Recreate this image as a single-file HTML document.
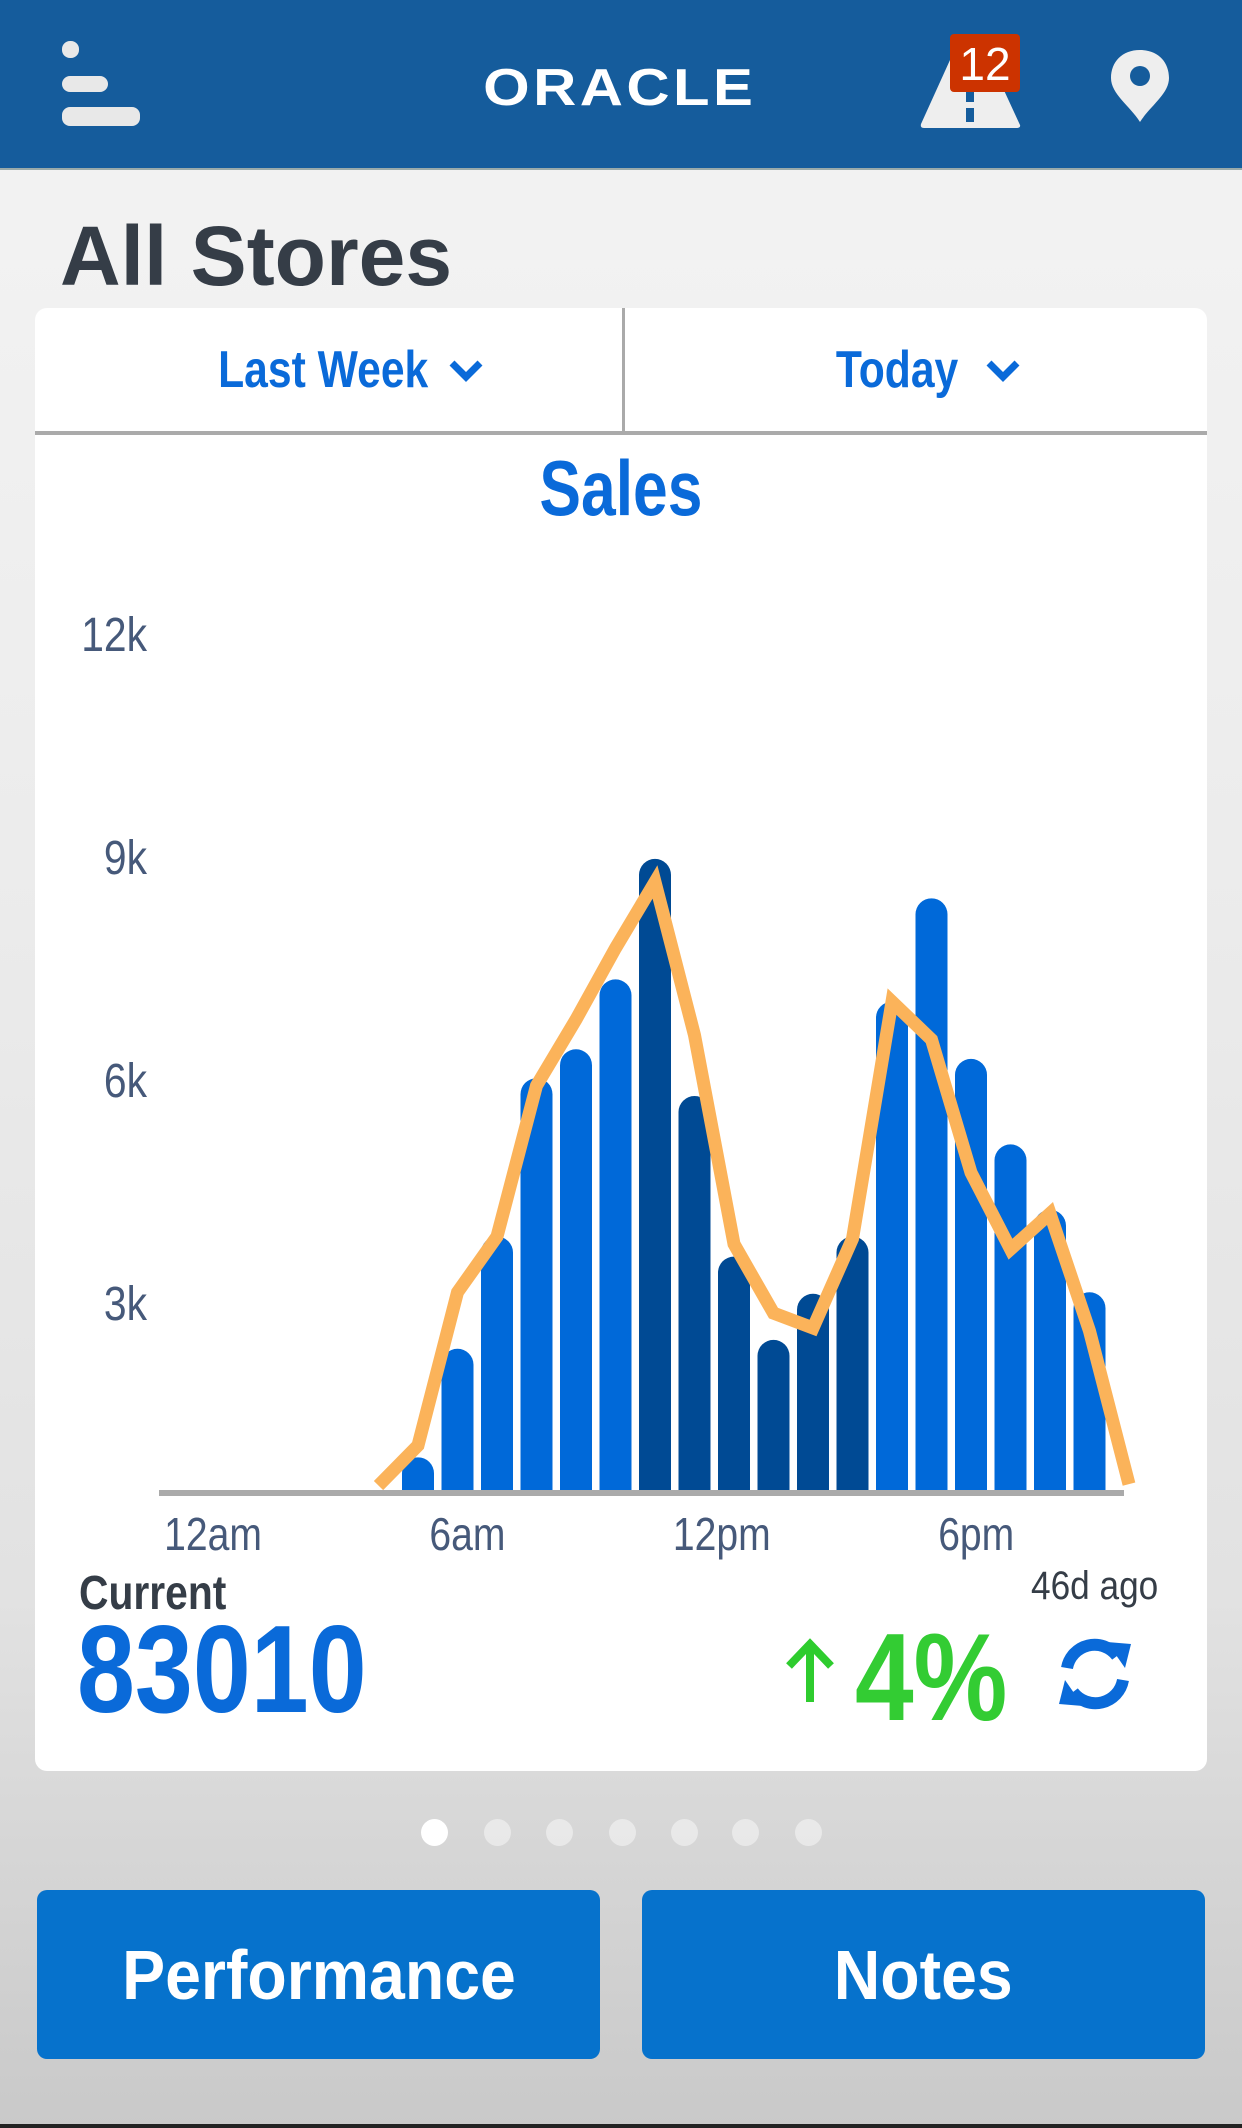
<!DOCTYPE html>
<html><head><meta charset="utf-8"><style>
*{margin:0;padding:0;box-sizing:border-box}
body{width:1242px;height:2128px;overflow:hidden;position:relative;font-family:"Liberation Sans",sans-serif;background:linear-gradient(180deg,#f4f4f4 0%,#ececec 40%,#e2e2e2 75%,#c9c9c9 100%)}
.abs{position:absolute}
.cx{display:inline-block;transform:scaleX(0.82)}
#header{left:0;top:0;width:1242px;height:170px;background:#155c9c;border-bottom:2px solid #9aa}
.bar{position:absolute;background:#e8e8e8;border-radius:8px;height:16px;left:62px}
#card{left:35px;top:308px;width:1172px;height:1463px;background:#fff;border-radius:12px}
.dd{position:absolute;top:0;height:124px;color:#0a6ad9;font-weight:bold;font-size:52px;display:flex;align-items:center;justify-content:center}
.btn{position:absolute;top:1890px;height:169px;width:563px;background:#0672cc;border-radius:10px;color:#fff;font-weight:bold;font-size:70px;display:flex;align-items:center;justify-content:center}
.dot{position:absolute;top:1819px;width:27px;height:27px;border-radius:50%;background:rgba(255,255,255,.45)}
</style></head><body>
<div id="header" class="abs">
  <div class="abs" style="left:0;top:30px;width:160px;height:100px">
    <div class="bar" style="top:11px;width:17px;height:17px"></div>
    <div class="bar" style="top:46px;width:46px"></div>
    <div class="bar" style="top:77px;width:78px;height:19px"></div>
  </div>
  <div class="abs" style="left:440px;top:58px;width:360px;text-align:center;color:#fff;font-weight:bold;font-size:52px;letter-spacing:3px"><span style="display:inline-block;transform:scaleX(1.15)">ORACLE</span></div>
  <svg class="abs" style="left:920px;top:30px" width="110" height="100">
    <path d="M30 30 L70 30 L100 95 Q101 98 96 98 L4 98 Q0 98 1 94 Z" fill="#eee"/>
    <rect x="46" y="60" width="8" height="12" fill="#155c9c"/><rect x="46" y="78" width="8" height="14" fill="#155c9c"/>
    <rect x="30" y="4" width="70" height="58" rx="4" fill="#cc3300"/>
    <text x="65" y="50" text-anchor="middle" fill="#fff" font-size="46" font-family="Liberation Sans,sans-serif">12</text>
  </svg>
  <svg class="abs" style="left:1108px;top:48px" width="64" height="76">
    <path d="M32 2 C14 2 3 14 3 30 C3 46 22 58 32 74 C42 58 61 46 61 30 C61 14 50 2 32 2 Z" fill="#eee"/>
    <circle cx="32" cy="28" r="10" fill="#155c9c"/>
  </svg>
</div>
<div class="abs" style="left:60px;top:208px;font-size:84px;font-weight:bold;color:#353d47">All Stores</div>
<div id="card" class="abs">
  <div class="dd" style="left:0;width:588px"><span class="cx" style="transform-origin:right">Last Week</span><svg width="40" height="30" style="margin-left:18px"><path d="M6 8 L20 22 L34 8" stroke="#0a6ad9" stroke-width="7" fill="none"/></svg></div>
  <div class="abs" style="left:587px;top:0;width:3px;height:124px;background:#aaa"></div>
  <div class="dd" style="left:590px;width:582px"><span class="cx" style="transform-origin:right">Today</span><svg width="40" height="30" style="margin-left:24px"><path d="M6 8 L20 22 L34 8" stroke="#0a6ad9" stroke-width="7" fill="none"/></svg></div>
  <div class="abs" style="left:0;top:123px;width:1172px;height:4px;background:#aaa"></div>
  <div class="abs" style="left:0;width:1172px;top:135px;text-align:center;color:#0a6ad9;font-weight:bold;font-size:78px"><span class="cx" style="transform:scaleX(0.8)">Sales</span></div>
  <div class="abs" style="left:44px;top:1258px;font-size:48px;font-weight:bold;color:#353d47;transform:scaleX(0.85);transform-origin:left">Current</div>
  <div class="abs" style="left:42px;top:1300px;font-size:124px;font-weight:bold;color:#0a6ad9;line-height:1;transform:scaleX(0.84);transform-origin:left">83010</div>
  <div class="abs" style="left:996px;top:1256px;font-size:40px;color:#353d47;transform:scaleX(0.88);transform-origin:left">46d ago</div>
  <svg class="abs" style="left:748px;top:1330px" width="54" height="66"><path d="M27 64 L27 8 M6 28 L27 6 L48 28" stroke="#2ecc2e" stroke-width="8" fill="none"/></svg>
  <div class="abs" style="left:820px;top:1308px;font-size:124px;font-weight:bold;color:#33cc33;line-height:1;transform:scaleX(0.85);transform-origin:left">4%</div>
  <svg class="abs" style="left:1020px;top:1328px" width="80" height="76">
    <path d="M12 32 A28 28 0 0 1 62 20" stroke="#0a6ad9" stroke-width="12" fill="none"/><path d="M52 6 L76 8 L70 32 Z" fill="#0a6ad9"/>
    <path d="M68 44 A28 28 0 0 1 18 56" stroke="#0a6ad9" stroke-width="12" fill="none"/><path d="M28 70 L4 68 L10 44 Z" fill="#0a6ad9"/>
  </svg>
</div>
<svg id="chart" class="abs" style="left:0;top:0" width="1242" height="1600"></svg>
<div class="dot" style="left:421px;background:#fff"></div>
<div class="dot" style="left:484px"></div>
<div class="dot" style="left:546px"></div>
<div class="dot" style="left:609px"></div>
<div class="dot" style="left:671px"></div>
<div class="dot" style="left:732px"></div>
<div class="dot" style="left:795px"></div>
<div class="btn" style="left:37px"><span class="cx" style="transform:scaleX(0.92)">Performance</span></div>
<div class="btn" style="left:642px"><span class="cx" style="transform:scaleX(0.92)">Notes</span></div>
<div class="abs" style="left:0;top:2124px;width:1242px;height:4px;background:#222"></div>
<script>
const yTicks=[3000,6000,9000,12000];
const yTickLabels=["3k","6k","9k","12k"];
const xTickLabels=["12am","6am","12pm","6pm"];
const xTickHours=[0,6,12,18];
const barValues=[480,1940,3450,5580,5970,6910,8530,5340,3180,2060,2680,3450,6610,8000,5840,4690,3810,2700];
const barDark=[0,0,0,0,0,0,1,1,1,1,1,1,0,0,0,0,0,0];
const lineValues=[100,640,2700,3450,5480,6370,7330,8220,6160,3350,2420,2220,3420,6610,6100,4310,3280,3760,2180,120];
const NS="http://www.w3.org/2000/svg";
const svg=document.getElementById('chart');
const y0=1493, pxPer=223/3000;
const yScale=v=>y0-v*pxPer;
const slot=i=>418+i*39.5;
const hourX=h=>213+h*42.4;
function mk(t,a){const e=document.createElementNS(NS,t);for(const k in a)e.setAttribute(k,a[k]);svg.appendChild(e);return e;}
yTicks.forEach((v,i)=>{
  const t=mk('text',{transform:`translate(147,${yScale(v)+50}) scale(0.85,1)`,'text-anchor':'end','font-size':48,fill:'#46597a','font-family':'Liberation Sans,sans-serif'});
  t.textContent=yTickLabels[i];
  
  
});
xTickLabels.forEach((l,i)=>{
  const t=mk('text',{transform:`translate(${hourX(xTickHours[i])},1550) scale(0.85,1)`,'text-anchor':'middle','font-size':46,fill:'#46597a','font-family':'Liberation Sans,sans-serif'});
  t.textContent=l;
  
  
});
barValues.forEach((v,i)=>{
  const x=slot(i)-16,top=yScale(v);
  const r=mk('path',{d:`M${x} ${y0-3} L${x} ${top+16} A16 16 0 0 1 ${x+32} ${top+16} L${x+32} ${y0-3} Z`,fill:barDark[i]?'#004a94':'#0069d9'});
  
  
});
const ax=mk('line',{x1:159,y1:y0,x2:1124,y2:y0,stroke:'#aaa','stroke-width':6});


const pts=lineValues.map((v,i)=>slot(i-1)+','+yScale(v)).join(' ');
const pl=mk('polyline',{points:pts,fill:'none',stroke:'#fbb35a','stroke-width':13,'stroke-linejoin':'miter'});


</script>
</body></html>
